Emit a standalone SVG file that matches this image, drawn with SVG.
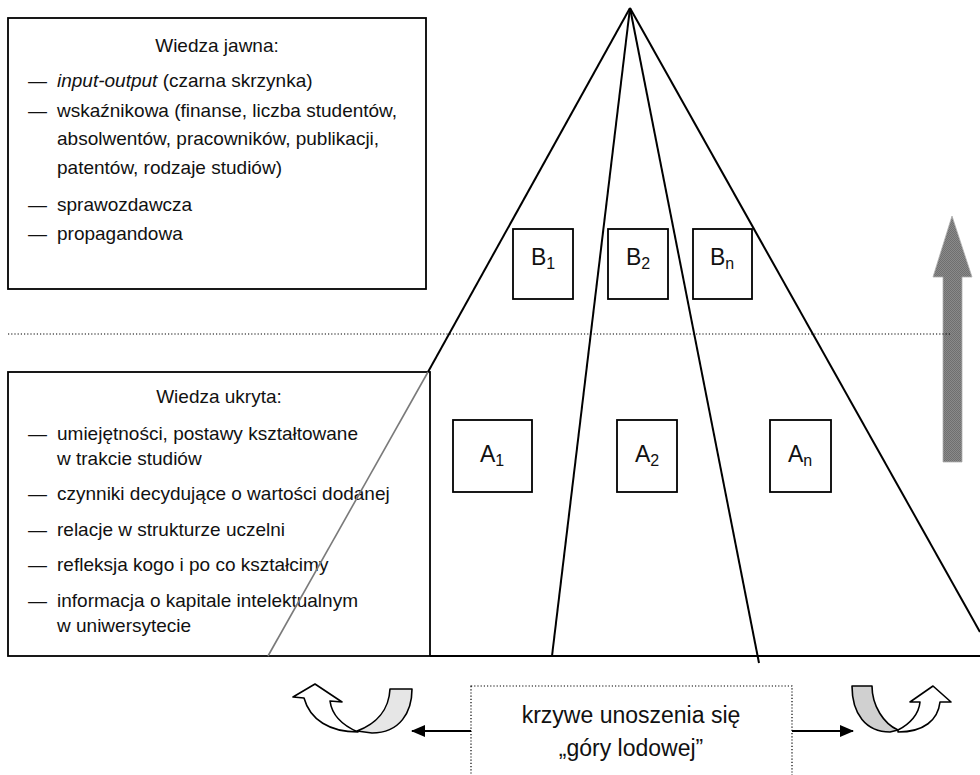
<svg xmlns="http://www.w3.org/2000/svg" width="980" height="775" viewBox="0 0 980 775">
  <style>
    .frame { fill: #ffffff; stroke: #000000; stroke-width: 1.8; }
    .edge { fill: none; stroke: #000000; stroke-width: 2; }
    .txt { font-family: "Liberation Sans", Arial, sans-serif; font-size: 19px; fill: #111111; }
    .ttl { font-family: "Liberation Sans", Arial, sans-serif; font-size: 19px; fill: #111111; text-anchor: middle; }
    .lbl { font-family: "Liberation Sans", Arial, sans-serif; font-size: 23px; fill: #111111; text-anchor: middle; }
    .sub { font-size: 16px; }
    .dots { fill: none; stroke: #000000; stroke-width: 1.2; stroke-dasharray: 1.2 2; }
    .band { stroke: #000000; stroke-width: 1.6; stroke-linejoin: round; }
  </style>
  <defs>
    <pattern id="checker" width="2" height="2" patternUnits="userSpaceOnUse">
      <rect width="2" height="2" fill="#8a8a8a"/>
      <rect width="1" height="1" fill="#6f6f6f"/>
      <rect x="1" y="1" width="1" height="1" fill="#6f6f6f"/>
    </pattern>
    <marker id="head" viewBox="0 0 14 12" refX="13" refY="6" markerWidth="14" markerHeight="12" markerUnits="userSpaceOnUse" orient="auto">
      <path d="M0,0 L14,6 L0,12 Z" fill="#000000"/>
    </marker>
  </defs>

  <rect width="980" height="775" fill="#ffffff"/>

  <!-- explicit knowledge box -->
  <g id="wiedza-jawna">
    <rect class="frame" x="8" y="18" width="418" height="271"/>
    <text class="ttl" x="217" y="52">Wiedza jawna:</text>
    <text class="txt" x="28" y="87">—</text>
    <text class="txt" x="57" y="87"><tspan font-style="italic">input-output</tspan> (czarna skrzynka)</text>
    <text class="txt" x="28" y="117">—</text>
    <text class="txt" x="57" y="117">wskaźnikowa (finanse, liczba studentów,</text>
    <text class="txt" x="57" y="145">absolwentów, pracowników, publikacji,</text>
    <text class="txt" x="57" y="174">patentów, rodzaje studiów)</text>
    <text class="txt" x="28" y="211">—</text>
    <text class="txt" x="57" y="211">sprawozdawcza</text>
    <text class="txt" x="28" y="240">—</text>
    <text class="txt" x="57" y="240">propagandowa</text>
  </g>

  <!-- tacit knowledge box -->
  <g id="wiedza-ukryta">
    <rect class="frame" x="8" y="372" width="422" height="284"/>
    <text class="ttl" x="219" y="403">Wiedza ukryta:</text>
    <text class="txt" x="28" y="440">—</text>
    <text class="txt" x="57" y="440">umiejętności, postawy kształtowane</text>
    <text class="txt" x="57" y="465">w trakcie studiów</text>
    <text class="txt" x="28" y="500">—</text>
    <text class="txt" x="57" y="500">czynniki decydujące o wartości dodanej</text>
    <text class="txt" x="28" y="536">—</text>
    <text class="txt" x="57" y="536">relacje w strukturze uczelni</text>
    <text class="txt" x="28" y="571">—</text>
    <text class="txt" x="57" y="571">refleksja kogo i po co kształcimy</text>
    <text class="txt" x="28" y="607">—</text>
    <text class="txt" x="57" y="607">informacja o kapitale intelektualnym</text>
    <text class="txt" x="57" y="632">w uniwersytecie</text>
  </g>

  <!-- pyramid edges, baseline and caption arrows -->
  <g id="connectors">
    <line class="edge" x1="630" y1="8" x2="428" y2="372"/>
    <line x1="428" y1="372" x2="268" y2="656" stroke="#7a7a7a" stroke-width="1.6"/>
    <line class="edge" x1="630" y1="8" x2="552" y2="656"/>
    <line class="edge" x1="630" y1="8" x2="759" y2="663"/>
    <line class="edge" x1="630" y1="8" x2="980" y2="632"/>
    <line class="edge" x1="430" y1="656" x2="980" y2="656"/>
    <line class="edge" x1="471" y1="731" x2="412" y2="731" stroke-width="1.6" marker-end="url(#head)"/>
    <line class="edge" x1="792" y1="731" x2="853" y2="731" stroke-width="1.6" marker-end="url(#head)"/>
  </g>

  <!-- rising arrow -->
  <g id="strzalka-w-gore">
    <path d="M952,216 L972,277 L962,277 L962,462 L943,462 L943,277 L933,277 Z" fill="url(#checker)" stroke="#b0b0b0" stroke-width="0.8"/>
  </g>

  <!-- waterline -->
  <line class="dots" x1="8" y1="334" x2="952" y2="334"/>

  <!-- tip tiles -->
  <g id="B1"><rect class="frame" x="513" y="229" width="60" height="70"/><text class="lbl" x="543" y="265">B<tspan class="sub" dy="4">1</tspan></text></g>
  <g id="B2"><rect class="frame" x="608" y="229" width="60" height="70"/><text class="lbl" x="638" y="265">B<tspan class="sub" dy="4">2</tspan></text></g>
  <g id="Bn"><rect class="frame" x="693" y="229" width="59" height="70"/><text class="lbl" x="722" y="265">B<tspan class="sub" dy="4">n</tspan></text></g>

  <!-- submerged tiles -->
  <g id="A1"><rect class="frame" x="453" y="420" width="79" height="72"/><text class="lbl" x="492" y="462">A<tspan class="sub" dy="4">1</tspan></text></g>
  <g id="A2"><rect class="frame" x="617" y="420" width="60" height="72"/><text class="lbl" x="647" y="462">A<tspan class="sub" dy="4">2</tspan></text></g>
  <g id="An"><rect class="frame" x="770" y="420" width="61" height="72"/><text class="lbl" x="800" y="462">A<tspan class="sub" dy="4">n</tspan></text></g>

  <!-- caption -->
  <g id="krzywe">
    <rect class="dots" x="471" y="686" width="321" height="110"/>
    <text class="lbl" x="631" y="723">krzywe unoszenia się</text>
    <text class="lbl" x="631" y="756">„góry lodowej”</text>
  </g>

  <!-- curved arrow, left -->
  <g id="zawrot-lewy">
    <path class="band" fill="#e6e6e6" d="M390,689 L412,689 C412,712 400,733 372,733 L357,731 C376,724 389,710 390,689 Z"/>
    <path class="band" fill="#ffffff" d="M304,698 C310,720 330,732 358,732 C344,726 332,716 330,701 L342,702 L315,684 L293,697 Z"/>
  </g>

  <!-- curved arrow, right -->
  <g id="zawrot-prawy">
    <path class="band" fill="#d0d0d0" d="M852,686 L872,686 C872,706 884,724 898,730 L890,732 C866,732 852,714 852,686 Z"/>
    <path class="band" fill="#ffffff" d="M898,730 C910,724 919,714 920,702 L910,702 L933,686 L951,702 L940,702 C938,720 924,732 898,732 Z"/>
  </g>
</svg>
